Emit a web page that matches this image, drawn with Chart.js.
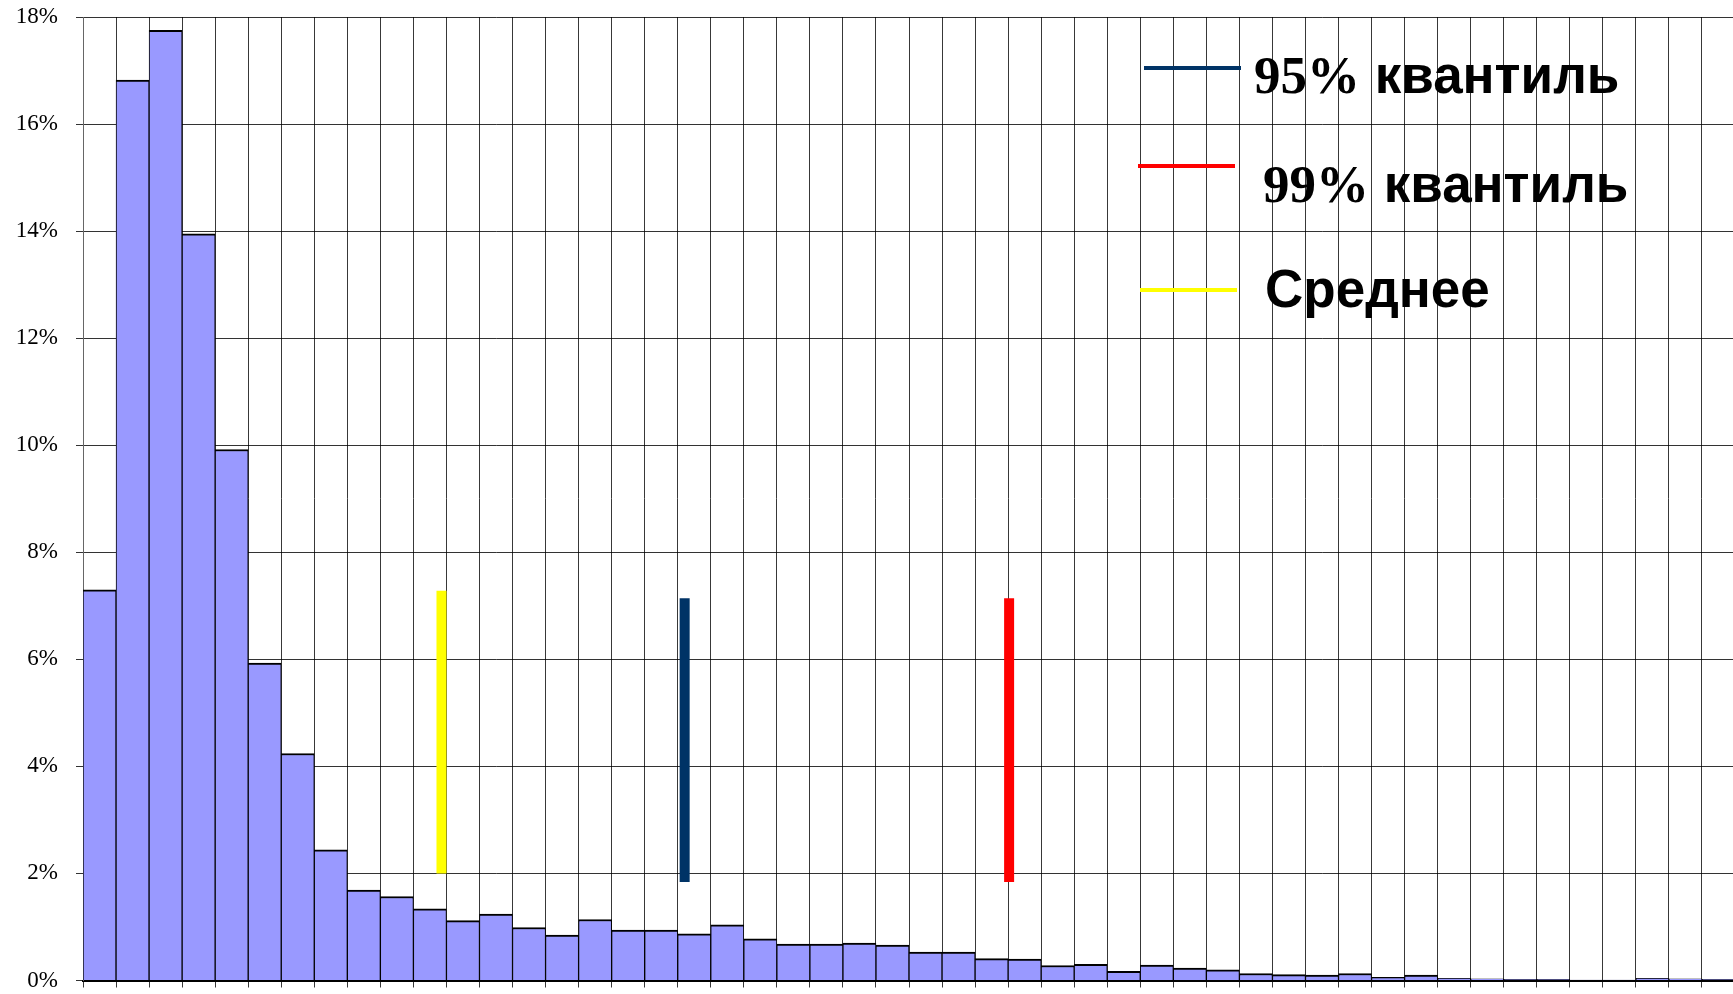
<!DOCTYPE html>
<html>
<head>
<meta charset="utf-8">
<script src="https://cdn.jsdelivr.net/npm/chart.js@4/dist/chart.umd.min.js"></script>
<style>
    html, body { margin: 0; padding: 0; background: #fff; overflow: hidden; }
    #wrap { position: relative; width: 1740px; height: 994px; }
</style>
</head>
<body>
<div id="wrap"><canvas id="hist"></canvas></div>
<script>
// histogram bins
var binLabels = ['1', '2', '3', '4', '5', '6', '7', '8', '9', '10',
    '11', '12', '13', '14', '15', '16', '17', '18', '19', '20',
    '21', '22', '23', '24', '25', '26', '27', '28', '29', '30',
    '31', '32', '33', '34', '35', '36', '37', '38', '39', '40',
    '41', '42', '43', '44', '45', '46', '47', '48', '49', '50'];
// share of observations, %
var shares = [7.30, 16.82, 17.75, 13.95, 9.92, 5.93, 4.24, 2.44, 1.69, 1.57,
    1.34, 1.12, 1.24, 0.99, 0.85, 1.14, 0.94, 0.94, 0.87, 1.04,
    0.78, 0.68, 0.68, 0.70, 0.66, 0.53, 0.53, 0.41, 0.40, 0.28,
    0.30, 0.17, 0.29, 0.23, 0.20, 0.13, 0.11, 0.10, 0.13, 0.06,
    0.10, 0.04, 0.03, 0.02, 0.02, 0.01, 0.01, 0.04, 0.03, 0.02];
var yTicks = [0, 2, 4, 6, 8, 10, 12, 14, 16, 18];

// vertical markers (position in bin units, from/to in %)
var markerNames = ['95% квантиль', '99% квантиль', 'Среднее'];
var markerX = [17.71, 27.53, 10.35];
var markerFrom = [1.84, 1.84, 2.00];
var markerTo = [7.14, 7.14, 7.28];
var markerColors = ['#003366', '#FF0000', '#FFFF00'];

var barPoints = binLabels.map(function (lab, i) {
    return {x: i, y: shares[i]};
});

var lineSets = markerNames.map(function (name, i) {
    return {
        type: 'line',
        label: name,
        data: [{x: markerX[i], y: markerFrom[i]}, {x: markerX[i], y: markerTo[i]}],
        borderColor: markerColors[i],
        borderWidth: 10,
        borderCapStyle: 'butt',
        pointRadius: 0,
        pointHoverRadius: 0,
        fill: false
    };
});

// legend sits inside the plot, drawn by hand
var legendPos = [
    {x1: 1144, x2: 1241, ly: 68, tx: 1254, ty: 93},
    {x1: 1138, x2: 1235, ly: 166, tx: 1263, ty: 202},
    {x1: 1140, x2: 1237, ly: 290, tx: 1265, ty: 307}
];

var quantileLegend = {
    id: 'quantileLegend',
    afterDraw: function (chart) {
        var ctx = chart.ctx;
        ctx.save();
        markerNames.forEach(function (name, i) {
            var p = legendPos[i];
            ctx.strokeStyle = markerColors[i];
            ctx.lineWidth = 4;
            ctx.lineCap = 'butt';
            ctx.beginPath();
            ctx.moveTo(p.x1, p.ly);
            ctx.lineTo(p.x2, p.ly);
            ctx.stroke();

            ctx.fillStyle = '#000';
            ctx.textBaseline = 'alphabetic';
            ctx.textAlign = 'left';
            // "95%" is set in a serif face, the word in a sans one
            var m = name.match(/^(\d+%)(.*)$/);
            var x = p.tx;
            if (m) {
                ctx.font = 'bold 53px "Liberation Serif"';
                ctx.fillText(m[1], x, p.ty);
                x += ctx.measureText(m[1]).width;
                ctx.font = 'bold 53px "Liberation Sans"';
                ctx.fillText(m[2], x, p.ty);
            } else {
                ctx.font = 'bold 53px "Liberation Sans"';
                ctx.fillText(name, x, p.ty);
            }
        });
        ctx.restore();
    }
};

window.onload = function () {
    var ctx = document.getElementById('hist').getContext('2d');

    window.histChart = new Chart(ctx, {
        type: 'bar',
        data: {
            labels: binLabels,
            datasets: [{
                label: 'share',
                data: barPoints,
                backgroundColor: '#9999FF',
                borderColor: '#000000',
                borderWidth: {top: 2, left: 1, right: 1, bottom: 0},
                borderSkipped: 'start',
                categoryPercentage: 1.0,
                barPercentage: 1.0,
                grouped: false,
                order: 2
            }].concat(lineSets)
        },
        options: {
            responsive: true,
            maintainAspectRatio: false,
            animation: false,
            layout: {
                padding: {top: 17, right: 5, bottom: 6.5, left: 0}
            },
            plugins: {
                legend: {display: false},
                tooltip: {enabled: false}
            },
            scales: {
                x: {
                    type: 'linear',
                    min: -0.5,
                    max: binLabels.length - 0.5,
                    offset: false,
                    afterBuildTicks: function (scale) {
                        // one grid line on every bin edge
                        var t = [];
                        for (var k = 0; k <= binLabels.length; k++) {
                            t.push({value: k - 0.5});
                        }
                        scale.ticks = t;
                    },
                    afterFit: function (scale) {
                        scale.height = 7;
                    },
                    grid: {
                        offset: false,
                        color: 'rgba(0,0,0,0.78)',
                        lineWidth: 1,
                        drawTicks: true,
                        tickLength: 7
                    },
                    border: {display: true, color: '#000', width: 2},
                    ticks: {display: false, autoSkip: false}
                },
                y: {
                    min: 0,
                    max: 18,
                    afterBuildTicks: function (scale) {
                        scale.ticks = yTicks.map(function (v) { return {value: v}; });
                    },
                    afterFit: function (scale) {
                        scale.width = 83;
                        scale.paddingTop = 0;
                        scale.paddingBottom = 0;
                    },
                    grid: {
                        color: 'rgba(0,0,0,0.8)',
                        lineWidth: 1,
                        tickLength: 7
                    },
                    border: {display: true, color: '#666', width: 1},
                    ticks: {
                        padding: 18,
                        color: '#000',
                        font: {family: '"Liberation Serif"', size: 23},
                        callback: function (v) { return v + '%'; }
                    }
                }
            }
        },
        plugins: [quantileLegend]
    });
};
</script>
</body>
</html>
